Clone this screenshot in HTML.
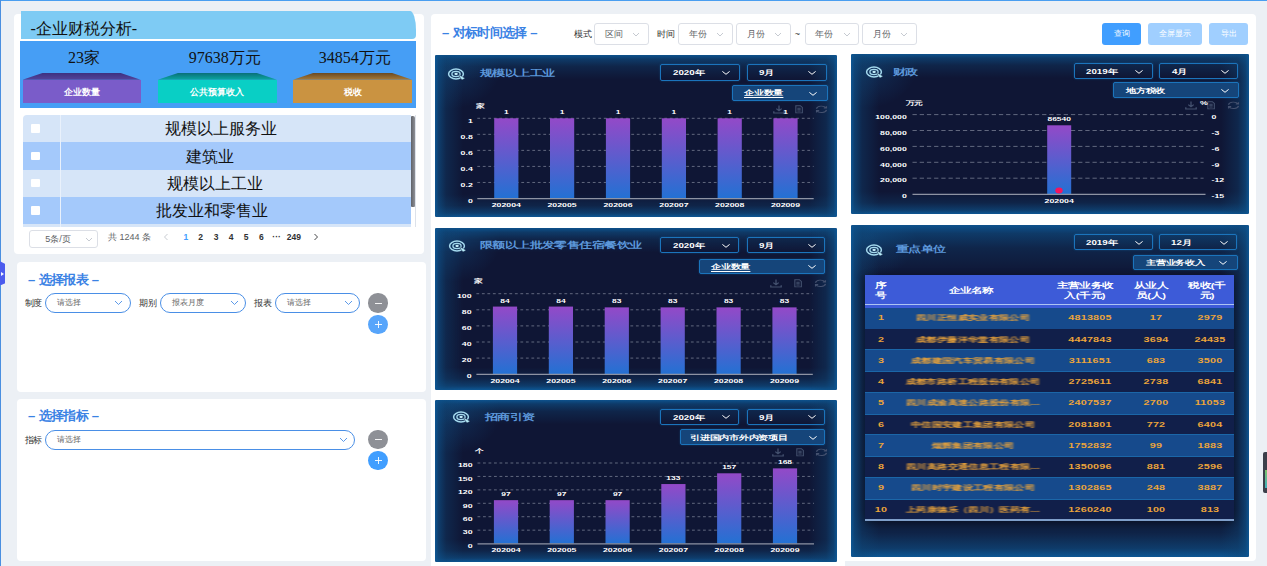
<!DOCTYPE html><html lang="zh"><head><meta charset="utf-8"><title>企业财税分析</title><style>
*{box-sizing:border-box;margin:0;padding:0}
html,body{width:1267px;height:566px;overflow:hidden}
body{position:relative;background:#ecf0f5;font-family:"Liberation Sans",sans-serif;font-size:9px;color:#333}
.abs{position:absolute}
i{display:inline-block;width:1em;text-align:center;font-style:normal;font-family:"Liberation Sans",sans-serif}
.t{position:absolute;white-space:nowrap;line-height:1}
.c{transform:translate(-50%,-50%)}
.l{transform:translate(0,-50%)}
.r{transform:translate(-100%,-50%)}
.cs{transform:translate(-50%,-50%) scaleX(1.46)}
.ls{transform-origin:0 50%;transform:translate(0,-50%) scaleX(1.46)}
.card{position:absolute;background:#fff;border-radius:4px}
.serif{font-family:"Liberation Serif",serif;color:#111}
.ttl{color:#3a82e4;font-weight:bold;font-size:13px}
.pill{position:absolute;border:1px solid #4a8fe6;border-radius:10px;background:#fff;height:19.5px}
.pill span.v{position:absolute;left:11px;top:50%;transform:translateY(-50%);font-size:8px;color:#666;line-height:1;white-space:nowrap}
.sel{position:absolute;border:1px solid #dcdfe6;border-radius:3px;background:#fff;height:22px;width:54.5px;top:22.7px}
.sel span.v{position:absolute;left:9.6px;top:50%;transform:translateY(-50%);font-size:9px;color:#606266;line-height:1;white-space:nowrap}
.btn{position:absolute;top:22.7px;height:22px;border:0;padding:0;margin:0;border-radius:3px;color:#fff;font-family:"Liberation Sans",sans-serif;font-size:8px;text-align:center;line-height:22px}
.dark{position:absolute;background:#0f1635;overflow:hidden;border-radius:2px}
.dark u{display:block;position:absolute;left:0;top:0;right:0;bottom:0;background:
linear-gradient(90deg,rgba(13,88,150,.95) 0,rgba(14,80,135,.68) 3.5px,rgba(15,70,118,.36) 11px,rgba(15,70,118,0) 28px),
linear-gradient(270deg,rgba(13,88,150,.95) 0,rgba(14,80,135,.68) 3.5px,rgba(15,70,118,.36) 11px,rgba(15,70,118,0) 28px),
linear-gradient(180deg,rgba(13,88,150,.9) 0,rgba(14,80,135,.62) 2.5%,rgba(15,70,118,.32) 7%,rgba(15,70,118,0) 15%),
linear-gradient(0deg,rgba(13,88,150,.98) 0,rgba(14,80,135,.66) 2.5%,rgba(15,70,118,.3) 7%,rgba(15,70,118,0) 14%)}
.dark b{position:absolute;left:-34px;top:-30px;width:100px;height:84px;background:radial-gradient(closest-side,rgba(20,105,170,.3),rgba(20,105,170,0))}
.dsel{position:absolute;border:1px solid #1b74bc;border-radius:2px;box-shadow:0 0 2px rgba(27,116,188,.5)}
.dsel.f{background:#15457a}
.dv{color:#fff;font-weight:bold;font-size:6.7px}
.dt{color:#5c97da;font-size:8.5px;font-weight:bold}
.th{color:#fff;font-weight:bold;font-size:7.67px;line-height:9.6px !important;text-align:center}
.td{color:#eba43a;font-weight:bold;font-size:7.4px;letter-spacing:.15px}
.td i{width:7.1px;letter-spacing:0}
.ttl i{width:12.3px}
.lb{font-size:9px}
.lb i{width:8.7px}
.un{color:#fff;font-weight:bold;font-size:5.7px}
.nm{filter:blur(.55px)}
svg{position:absolute;left:0;top:0;overflow:visible}
svg text{font-family:"Liberation Sans",sans-serif;font-weight:bold;fill:#fff}
</style></head><body>
<div class="abs" style="left:0;top:0;width:1267px;height:1.2px;background:#4a9ef0"></div>
<div class="abs" style="left:0;top:0;width:1.1px;height:566px;background:#4a8fe0"></div>
<div class="abs" style="left:0;top:261.3px;width:5.3px;height:24.2px;background:#4b5bee;clip-path:polygon(0 0,100% 11%,100% 91%,0 100%)"></div>
<div class="abs" style="left:.6px;top:272.3px;width:0;height:0;border-left:3px solid #f4f6ff;border-top:2.4px solid transparent;border-bottom:2.4px solid transparent"></div>
<div class="card" style="left:14.3px;top:14px;width:409.7px;height:240px"></div>
<div class="abs" style="left:20.5px;top:11.3px;width:395.5px;height:27.4px;background:#7ecbf4;border-radius:0 6px 4px 0/0 19px 4px 0"></div>
<div class="t l serif" style="left:30.5px;top:28.5px;font-size:16px">-<i>企</i><i>业</i><i>财</i><i>税</i><i>分</i><i>析</i>-</div>
<div class="abs" style="left:20px;top:41px;width:396px;height:67px;background:#469ef5"></div>
<div class="t c serif" style="left:84px;top:58.3px;font-size:16px">23<i>家</i></div>
<div class="t c serif" style="left:224.7px;top:58.3px;font-size:16px">97638<i>万</i><i>元</i></div>
<div class="t c serif" style="left:354.7px;top:58.3px;font-size:16px">34854<i>万</i><i>元</i></div>
<div class="abs" style="left:22.5px;top:72.8px;width:118.2px;height:7px;background:linear-gradient(#3d3180,#54439c);clip-path:polygon(17.5% 0,82.5% 0,100% 100%,0 100%)"></div>
<div class="abs" style="left:22.5px;top:79.5px;width:118.2px;height:23px;background:#7a5cc9"></div>
<div class="t c" style="left:81.6px;top:92px;color:#fff;font-weight:bold;font-size:9px"><i>企</i><i>业</i><i>数</i><i>量</i></div>
<div class="abs" style="left:157.8px;top:72.8px;width:119.2px;height:7px;background:linear-gradient(#0a6f78,#0aa8a2);clip-path:polygon(17.5% 0,82.5% 0,100% 100%,0 100%)"></div>
<div class="abs" style="left:157.8px;top:79.5px;width:119.2px;height:23px;background:#09cfc5"></div>
<div class="t c" style="left:217.4px;top:92px;color:#fff;font-weight:bold;font-size:9px"><i>公</i><i>共</i><i>预</i><i>算</i><i>收</i><i>入</i></div>
<div class="abs" style="left:293px;top:72.8px;width:119.3px;height:7px;background:linear-gradient(#6a4a22,#a87c3a);clip-path:polygon(17.5% 0,82.5% 0,100% 100%,0 100%)"></div>
<div class="abs" style="left:293px;top:79.5px;width:119.3px;height:23px;background:#ca9341"></div>
<div class="t c" style="left:352.6px;top:92px;color:#fff;font-weight:bold;font-size:9px"><i>税</i><i>收</i></div>
<div class="abs" style="left:23px;top:115px;width:388.3px;height:112px;overflow:hidden;border-radius:4px 0 0 0">
<div class="abs" style="left:0;top:0.0px;width:389px;height:27.4px;background:#d6e5f8"></div>
<div class="abs" style="left:7.5px;top:9.2px;width:9px;height:8.5px;background:#fff;border-radius:1px"></div>
<div class="t c serif" style="left:198.2px;top:14.2px;font-size:16px"><i>规</i><i>模</i><i>以</i><i>上</i><i>服</i><i>务</i><i>业</i></div>
<div class="abs" style="left:0;top:27.3px;width:389px;height:27.4px;background:#a4c9fb"></div>
<div class="abs" style="left:7.5px;top:36.5px;width:9px;height:8.5px;background:#fff;border-radius:1px"></div>
<div class="t c serif" style="left:187.1px;top:41.5px;font-size:16px"><i>建</i><i>筑</i><i>业</i></div>
<div class="abs" style="left:0;top:54.6px;width:389px;height:27.4px;background:#d6e5f8"></div>
<div class="abs" style="left:7.5px;top:63.8px;width:9px;height:8.5px;background:#fff;border-radius:1px"></div>
<div class="t c serif" style="left:191.6px;top:68.8px;font-size:16px"><i>规</i><i>模</i><i>以</i><i>上</i><i>工</i><i>业</i></div>
<div class="abs" style="left:0;top:81.9px;width:389px;height:27.4px;background:#a4c9fb"></div>
<div class="abs" style="left:7.5px;top:91.1px;width:9px;height:8.5px;background:#fff;border-radius:1px"></div>
<div class="t c serif" style="left:189.4px;top:96.1px;font-size:16px"><i>批</i><i>发</i><i>业</i><i>和</i><i>零</i><i>售</i><i>业</i></div>
<div class="abs" style="left:0;top:109.2px;width:389px;height:27.4px;background:#d6e5f8"></div>
<div class="abs" style="left:7.5px;top:118.4px;width:9px;height:8.5px;background:#fff;border-radius:1px"></div>
<div class="abs" style="left:37px;top:0;width:1px;height:112px;background:#e9f1fc"></div>
</div>
<div class="abs" style="left:411.2px;top:115.8px;width:3.9px;height:91.6px;background:linear-gradient(90deg,#5f6269,#8e9096);border-radius:1px 2px 1px 1px"></div>
<div class="abs" style="left:415.2px;top:115px;width:.7px;height:112px;background:#dde2ea"></div>
<div class="abs" style="left:29px;top:229.6px;width:68.6px;height:18.5px;border:1px solid #dcdfe6;border-radius:3px;background:#fff"></div>
<div class="t c" style="left:58px;top:238.6px;color:#606266;font-size:9px">5<i>条</i>/<i>页</i></div>
<svg width="8" height="5" style="left:85px;top:236.5px"><path d="M1 1 L4 4 L7 1" fill="none" stroke="#c0c4cc" stroke-width="0.9"/></svg>
<div class="t l" style="left:108px;top:236.8px;color:#606266;font-size:9px"><i>共</i> 1244 <i>条</i></div>
<svg width="6" height="8" style="left:163px;top:233px"><path d="M4.5 1 L1.5 4 L4.5 7" fill="none" stroke="#c0c4cc" stroke-width="0.9"/></svg>
<svg width="6" height="8" style="left:312.5px;top:233px"><path d="M1.5 1 L4.5 4 L1.5 7" fill="none" stroke="#303133" stroke-width="0.9"/></svg>
<div class="t c" style="left:185.8px;top:236.8px;color:#409eff;font-size:8.5px;font-weight:bold">1</div>
<div class="t c" style="left:200.7px;top:236.8px;color:#303133;font-size:8.5px;font-weight:bold">2</div>
<div class="t c" style="left:216px;top:236.8px;color:#303133;font-size:8.5px;font-weight:bold">3</div>
<div class="t c" style="left:231px;top:236.8px;color:#303133;font-size:8.5px;font-weight:bold">4</div>
<div class="t c" style="left:246px;top:236.8px;color:#303133;font-size:8.5px;font-weight:bold">5</div>
<div class="t c" style="left:261.3px;top:236.8px;color:#303133;font-size:8.5px;font-weight:bold">6</div>
<div class="t c" style="left:276.6px;top:236.8px;color:#303133;font-size:8.5px;font-weight:bold">···</div>
<div class="t c" style="left:293.8px;top:236.8px;color:#303133;font-size:8.5px;font-weight:bold">249</div>
<div class="card" style="left:16.5px;top:262px;width:409.7px;height:129.5px"></div>
<div class="t l ttl" style="left:28px;top:279.3px">– <i>选</i><i>择</i><i>报</i><i>表</i> –</div>
<div class="t l lb" style="left:24.5px;top:302.8px"><i>制</i><i>度</i></div>
<div class="pill" style="left:44.9px;top:293.3px;width:85.8px"><span class="v"><i>请</i><i>选</i><i>择</i></span></div>
<svg width="9" height="6" style="left:114.4px;top:299.8px"><path d="M1 1 L4.5 4.5 L8 1" fill="none" stroke="#4a8fe6" stroke-width="0.9"/></svg>
<div class="t l lb" style="left:139.2px;top:302.8px"><i>期</i><i>别</i></div>
<div class="pill" style="left:160px;top:293.3px;width:85.8px"><span class="v"><i>报</i><i>表</i><i>月</i><i>度</i></span></div>
<svg width="9" height="6" style="left:229.5px;top:299.8px"><path d="M1 1 L4.5 4.5 L8 1" fill="none" stroke="#4a8fe6" stroke-width="0.9"/></svg>
<div class="t l lb" style="left:253.9px;top:302.8px"><i>报</i><i>表</i></div>
<div class="pill" style="left:274.6px;top:293.3px;width:85.4px"><span class="v"><i>请</i><i>选</i><i>择</i></span></div>
<svg width="9" height="6" style="left:343.7px;top:299.8px"><path d="M1 1 L4.5 4.5 L8 1" fill="none" stroke="#4a8fe6" stroke-width="0.9"/></svg>
<div class="abs" style="left:368.3px;top:293.3px;width:19.4px;height:19.4px;border-radius:50%;background:#8e9096"></div>
<div class="abs" style="left:374.5px;top:302.5px;width:7px;height:1px;background:#fff;opacity:.9"></div>
<div class="abs" style="left:368.3px;top:314.7px;width:19.4px;height:19.4px;border-radius:50%;background:#57a5fb"></div>
<div class="abs" style="left:374.5px;top:323.9px;width:7px;height:1px;background:#fff;opacity:.9"></div>
<div class="abs" style="left:377.5px;top:320.9px;width:1px;height:7px;background:#fff;opacity:.9"></div>
<div class="card" style="left:16.5px;top:398.5px;width:409.7px;height:162.8px"></div>
<div class="t l ttl" style="left:28px;top:415.3px">– <i>选</i><i>择</i><i>指</i><i>标</i> –</div>
<div class="t l lb" style="left:24.5px;top:440px"><i>指</i><i>标</i></div>
<div class="pill" style="left:45px;top:430.3px;width:310px"><span class="v"><i>请</i><i>选</i><i>择</i></span></div>
<svg width="9" height="6" style="left:338.7px;top:436.8px"><path d="M1 1 L4.5 4.5 L8 1" fill="none" stroke="#4a8fe6" stroke-width="0.9"/></svg>
<div class="abs" style="left:368.3px;top:429.8px;width:19.4px;height:19.4px;border-radius:50%;background:#8e9096"></div>
<div class="abs" style="left:374.5px;top:439.0px;width:7px;height:1px;background:#fff;opacity:.9"></div>
<div class="abs" style="left:368.3px;top:450.8px;width:19.4px;height:19.4px;border-radius:50%;background:#409eff"></div>
<div class="abs" style="left:374.5px;top:460.0px;width:7px;height:1px;background:#fff;opacity:.9"></div>
<div class="abs" style="left:377.5px;top:457.0px;width:1px;height:7px;background:#fff;opacity:.9"></div>
<div class="card" style="left:430.5px;top:14.3px;width:825.5px;height:546.8px"></div>
<div class="abs" style="left:430.5px;top:550px;width:414px;height:16px;background:#fff"></div>
<div class="t l ttl" style="left:442px;top:31.5px">– <i>对</i><i>标</i><i>时</i><i>间</i><i>选</i><i>择</i> –</div>
<div class="t l lb" style="left:574px;top:33.5px"><i>模</i><i>式</i></div>
<div class="t l lb" style="left:657.4px;top:33.5px"><i>时</i><i>间</i></div>
<div class="t c" style="left:797.5px;top:34px;font-size:9px">~</div>
<div class="sel" style="left:594.2px"><span class="v"><i>区</i><i>间</i></span></div>
<svg width="8" height="5" style="left:632.2px;top:31.5px"><path d="M1 1 L4 4 L7 1" fill="none" stroke="#c0c4cc" stroke-width="0.9"/></svg>
<div class="sel" style="left:678.3px"><span class="v"><i>年</i><i>份</i></span></div>
<svg width="8" height="5" style="left:716.3px;top:31.5px"><path d="M1 1 L4 4 L7 1" fill="none" stroke="#c0c4cc" stroke-width="0.9"/></svg>
<div class="sel" style="left:736.3px"><span class="v"><i>月</i><i>份</i></span></div>
<svg width="8" height="5" style="left:774.3px;top:31.5px"><path d="M1 1 L4 4 L7 1" fill="none" stroke="#c0c4cc" stroke-width="0.9"/></svg>
<div class="sel" style="left:804.7px"><span class="v"><i>年</i><i>份</i></span></div>
<svg width="8" height="5" style="left:842.7px;top:31.5px"><path d="M1 1 L4 4 L7 1" fill="none" stroke="#c0c4cc" stroke-width="0.9"/></svg>
<div class="sel" style="left:862.3px"><span class="v"><i>月</i><i>份</i></span></div>
<svg width="8" height="5" style="left:900.3px;top:31.5px"><path d="M1 1 L4 4 L7 1" fill="none" stroke="#c0c4cc" stroke-width="0.9"/></svg>
<button class="btn" style="left:1102.2px;width:38.7px;background:#409eff"><i>查</i><i>询</i></button>
<button class="btn" style="left:1147.8px;width:54.6px;background:#a0cfff"><i>全</i><i>屏</i><i>显</i><i>示</i></button>
<button class="btn" style="left:1209.4px;width:38.5px;background:#a0cfff"><i>导</i><i>出</i></button>
<div class="abs" style="left:1262.5px;top:452px;width:6px;height:40.5px;background:#3b3f4a;border-radius:2px 0 0 2px"></div>
<div class="abs" style="left:1265px;top:470px;width:2px;height:18px;background:linear-gradient(#7fc36a,#3fb0c0)"></div>
<svg width="0" height="0"><defs><linearGradient id="bg" x1="0" y1="0" x2="0" y2="1"><stop offset="0" stop-color="#9349c8"/><stop offset="1" stop-color="#2371d3"/></linearGradient></defs></svg>
<div class="dark" style="left:435px;top:55px;width:402px;height:161.7px"><b></b><u></u></div>
<svg width="20" height="14" viewBox="-10 -7 20 14" style="left:446.0px;top:66.6px"><g fill="none" stroke="#a4d9ee"><ellipse cx="0" cy="0" rx="7.4" ry="4.9" stroke-width="1.5"/><ellipse cx="0" cy="0" rx="4.1" ry="2.6" stroke-width="1.35"/></g><ellipse cx="0.1" cy="0" rx="1.7" ry="1.15" fill="#c2ecf8"/><path d="M2.3 0.5 L9.1 4.2 L5.9 6.1 Z" fill="#b9effb" stroke="#0f1d3e" stroke-width=".4"/></svg>
<div class="t ls dt" style="left:480.4px;top:73.1px"><i>规</i><i>模</i><i>以</i><i>上</i><i>工</i><i>业</i></div>
<div class="dsel" style="left:660.2px;top:64.3px;width:79.8px;height:16.7px"></div>
<div class="t ls dv" style="left:672.5px;top:73.2px">2020<i>年</i></div>
<svg width="10" height="6" style="left:720.7px;top:70.1px"><path d="M1.4 1.4 L5 4.3 L8.6 1.4" fill="none" stroke="#fff" stroke-width="1.0"/></svg>
<div class="dsel" style="left:747px;top:64.3px;width:79.8px;height:16.7px"></div>
<div class="t ls dv" style="left:758.7px;top:73.2px">9<i>月</i></div>
<svg width="10" height="6" style="left:807.4px;top:70.1px"><path d="M1.4 1.4 L5 4.3 L8.6 1.4" fill="none" stroke="#fff" stroke-width="1.0"/></svg>
<div class="dsel f" style="left:732.2px;top:85.4px;width:95.6px;height:15.9px"></div>
<div class="t ls dv" style="left:744.2px;top:93.9px;border-bottom:.7px solid #fff;padding-bottom:.3px;margin-top:.5px"><i>企</i><i>业</i><i>数</i><i>量</i></div>
<svg width="10" height="6" style="left:808px;top:90.8px"><path d="M1.4 1.4 L5 4.3 L8.6 1.4" fill="none" stroke="#fff" stroke-width="1.0"/></svg>
<svg width="12" height="8.8" preserveAspectRatio="none" viewBox="0 0 12 12" style="left:772.7px;top:105.0px"><path d="M6 0.8 V7.6 M3.3 5 L6 7.8 L8.7 5 M0.8 8.4 V11 H11.2 V8.4" fill="none" stroke="#44516f" stroke-width="1.3"/></svg>
<svg width="10" height="8.6" preserveAspectRatio="none" viewBox="0 0 12 12" style="left:794.0px;top:105.0px"><path d="M2.2 1 H7.6 L10 3.4 V11 H2.2 Z M4 4.5 H8 M4 6.5 H8 M4 8.5 H8" fill="none" stroke="#44516f" stroke-width="1.3"/></svg>
<svg width="13" height="8.6" preserveAspectRatio="none" viewBox="0 0 13 12" style="left:814.9px;top:105.0px"><path d="M1.5 5.2 A5 4.2 0 0 1 11 4 M11.5 6.8 A5 4.2 0 0 1 2 8 M11.4 1.6 V4.2 H8.8 M1.6 10.4 V7.8 H4.2" fill="none" stroke="#44516f" stroke-width="1.3"/></svg>
<svg width="1267" height="566" viewBox="0 0 1267 566" style="left:0;top:0;pointer-events:none"><line x1="477.3" y1="118.3" x2="813.7" y2="118.3" stroke="#c3c8d6" stroke-opacity=".58" stroke-width="0.8" stroke-dasharray="2.8 2.7"/><line x1="477.3" y1="134.34" x2="813.7" y2="134.34" stroke="#c3c8d6" stroke-opacity=".58" stroke-width="0.8" stroke-dasharray="2.8 2.7"/><line x1="477.3" y1="150.38" x2="813.7" y2="150.38" stroke="#c3c8d6" stroke-opacity=".58" stroke-width="0.8" stroke-dasharray="2.8 2.7"/><line x1="477.3" y1="166.42" x2="813.7" y2="166.42" stroke="#c3c8d6" stroke-opacity=".58" stroke-width="0.8" stroke-dasharray="2.8 2.7"/><line x1="477.3" y1="182.46" x2="813.7" y2="182.46" stroke="#c3c8d6" stroke-opacity=".58" stroke-width="0.8" stroke-dasharray="2.8 2.7"/><rect x="494.2" y="118.3" width="24.2" height="80.2" fill="url(#bg)"/><rect x="550.0" y="118.3" width="24.2" height="80.2" fill="url(#bg)"/><rect x="605.9" y="118.3" width="24.2" height="80.2" fill="url(#bg)"/><rect x="661.8" y="118.3" width="24.2" height="80.2" fill="url(#bg)"/><rect x="717.6" y="118.3" width="24.2" height="80.2" fill="url(#bg)"/><rect x="773.4" y="118.3" width="24.2" height="80.2" fill="url(#bg)"/><text transform="translate(472.8 122.56) scale(1.46 1)" text-anchor="end" font-size="6">1</text><text transform="translate(472.8 138.6) scale(1.46 1)" text-anchor="end" font-size="6">0.8</text><text transform="translate(472.8 154.64) scale(1.46 1)" text-anchor="end" font-size="6">0.6</text><text transform="translate(472.8 170.68) scale(1.46 1)" text-anchor="end" font-size="6">0.4</text><text transform="translate(472.8 186.72) scale(1.46 1)" text-anchor="end" font-size="6">0.2</text><text transform="translate(472.8 202.76) scale(1.46 1)" text-anchor="end" font-size="6">0</text><text transform="translate(506.3 114.39) scale(1.46 1)" text-anchor="middle" font-size="5.8">1</text><text transform="translate(506.3 207.16) scale(1.46 1)" text-anchor="middle" font-size="6">202004</text><text transform="translate(562.1 114.39) scale(1.46 1)" text-anchor="middle" font-size="5.8">1</text><text transform="translate(562.1 207.16) scale(1.46 1)" text-anchor="middle" font-size="6">202005</text><text transform="translate(618.0 114.39) scale(1.46 1)" text-anchor="middle" font-size="5.8">1</text><text transform="translate(618.0 207.16) scale(1.46 1)" text-anchor="middle" font-size="6">202006</text><text transform="translate(673.9 114.39) scale(1.46 1)" text-anchor="middle" font-size="5.8">1</text><text transform="translate(673.9 207.16) scale(1.46 1)" text-anchor="middle" font-size="6">202007</text><text transform="translate(729.7 114.39) scale(1.46 1)" text-anchor="middle" font-size="5.8">1</text><text transform="translate(729.7 207.16) scale(1.46 1)" text-anchor="middle" font-size="6">202008</text><text transform="translate(785.5 114.39) scale(1.46 1)" text-anchor="middle" font-size="5.8">1</text><text transform="translate(785.5 207.16) scale(1.46 1)" text-anchor="middle" font-size="6">202009</text><line x1="477.3" y1="198.7" x2="813.7" y2="198.7" stroke="#8e93a3" stroke-width="1.3"/></svg>
<div class="t cs un" style="left:479.5px;top:107.3px"><i>家</i></div>
<div class="dark" style="left:435px;top:227.5px;width:402px;height:162.2px"><b></b><u></u></div>
<svg width="20" height="14" viewBox="-10 -7 20 14" style="left:446.9px;top:238.7px"><g fill="none" stroke="#a4d9ee"><ellipse cx="0" cy="0" rx="7.4" ry="4.9" stroke-width="1.5"/><ellipse cx="0" cy="0" rx="4.1" ry="2.6" stroke-width="1.35"/></g><ellipse cx="0.1" cy="0" rx="1.7" ry="1.15" fill="#c2ecf8"/><path d="M2.3 0.5 L9.1 4.2 L5.9 6.1 Z" fill="#b9effb" stroke="#0f1d3e" stroke-width=".4"/></svg>
<div class="t ls dt" style="left:479.7px;top:245.2px"><i>限</i><i>额</i><i>以</i><i>上</i><i>批</i><i>发</i><i>零</i><i>售</i><i>住</i><i>宿</i><i>餐</i><i>饮</i><i>业</i></div>
<div class="dsel" style="left:660.4px;top:237.2px;width:78.8px;height:15.9px"></div>
<div class="t ls dv" style="left:672.5px;top:245.7px">2020<i>年</i></div>
<svg width="10" height="6" style="left:720.7px;top:242.6px"><path d="M1.4 1.4 L5 4.3 L8.6 1.4" fill="none" stroke="#fff" stroke-width="1.0"/></svg>
<div class="dsel" style="left:746.5px;top:237.2px;width:78.9px;height:15.9px"></div>
<div class="t ls dv" style="left:758.7px;top:245.7px">9<i>月</i></div>
<svg width="10" height="6" style="left:806.5px;top:242.6px"><path d="M1.4 1.4 L5 4.3 L8.6 1.4" fill="none" stroke="#fff" stroke-width="1.0"/></svg>
<div class="dsel f" style="left:699.1px;top:258.8px;width:126.3px;height:15.5px"></div>
<div class="t ls dv" style="left:711px;top:267.1px;border-bottom:.7px solid #fff;padding-bottom:.3px;margin-top:.5px"><i>企</i><i>业</i><i>数</i><i>量</i></div>
<svg width="10" height="6" style="left:806.5px;top:264.0px"><path d="M1.4 1.4 L5 4.3 L8.6 1.4" fill="none" stroke="#fff" stroke-width="1.0"/></svg>
<svg width="12" height="8.8" preserveAspectRatio="none" viewBox="0 0 12 12" style="left:770.2px;top:279.3px"><path d="M6 0.8 V7.6 M3.3 5 L6 7.8 L8.7 5 M0.8 8.4 V11 H11.2 V8.4" fill="none" stroke="#44516f" stroke-width="1.3"/></svg>
<svg width="10" height="8.6" preserveAspectRatio="none" viewBox="0 0 12 12" style="left:793.4px;top:279.3px"><path d="M2.2 1 H7.6 L10 3.4 V11 H2.2 Z M4 4.5 H8 M4 6.5 H8 M4 8.5 H8" fill="none" stroke="#44516f" stroke-width="1.3"/></svg>
<svg width="13" height="8.6" preserveAspectRatio="none" viewBox="0 0 13 12" style="left:813.9px;top:279.3px"><path d="M1.5 5.2 A5 4.2 0 0 1 11 4 M11.5 6.8 A5 4.2 0 0 1 2 8 M11.4 1.6 V4.2 H8.8 M1.6 10.4 V7.8 H4.2" fill="none" stroke="#44516f" stroke-width="1.3"/></svg>
<svg width="1267" height="566" viewBox="0 0 1267 566" style="left:0;top:0;pointer-events:none"><line x1="476.4" y1="293.7" x2="812.8" y2="293.7" stroke="#c3c8d6" stroke-opacity=".58" stroke-width="0.8" stroke-dasharray="2.8 2.7"/><line x1="476.4" y1="309.8" x2="812.8" y2="309.8" stroke="#c3c8d6" stroke-opacity=".58" stroke-width="0.8" stroke-dasharray="2.8 2.7"/><line x1="476.4" y1="325.9" x2="812.8" y2="325.9" stroke="#c3c8d6" stroke-opacity=".58" stroke-width="0.8" stroke-dasharray="2.8 2.7"/><line x1="476.4" y1="342.0" x2="812.8" y2="342.0" stroke="#c3c8d6" stroke-opacity=".58" stroke-width="0.8" stroke-dasharray="2.8 2.7"/><line x1="476.4" y1="358.1" x2="812.8" y2="358.1" stroke="#c3c8d6" stroke-opacity=".58" stroke-width="0.8" stroke-dasharray="2.8 2.7"/><rect x="492.9" y="306.58" width="24.2" height="67.62" fill="url(#bg)"/><rect x="548.8" y="306.58" width="24.2" height="67.62" fill="url(#bg)"/><rect x="604.7" y="307.38" width="24.2" height="66.81" fill="url(#bg)"/><rect x="660.6" y="307.38" width="24.2" height="66.81" fill="url(#bg)"/><rect x="716.5" y="307.38" width="24.2" height="66.81" fill="url(#bg)"/><rect x="772.4" y="307.38" width="24.2" height="66.81" fill="url(#bg)"/><text transform="translate(471.5 297.96) scale(1.46 1)" text-anchor="end" font-size="6">100</text><text transform="translate(471.5 314.06) scale(1.46 1)" text-anchor="end" font-size="6">80</text><text transform="translate(471.5 330.16) scale(1.46 1)" text-anchor="end" font-size="6">60</text><text transform="translate(471.5 346.26) scale(1.46 1)" text-anchor="end" font-size="6">40</text><text transform="translate(471.5 362.36) scale(1.46 1)" text-anchor="end" font-size="6">20</text><text transform="translate(471.5 378.46) scale(1.46 1)" text-anchor="end" font-size="6">0</text><text transform="translate(505.0 302.67) scale(1.46 1)" text-anchor="middle" font-size="5.8">84</text><text transform="translate(505.0 383.16) scale(1.46 1)" text-anchor="middle" font-size="6">202004</text><text transform="translate(560.9 302.67) scale(1.46 1)" text-anchor="middle" font-size="5.8">84</text><text transform="translate(560.9 383.16) scale(1.46 1)" text-anchor="middle" font-size="6">202005</text><text transform="translate(616.8 303.47) scale(1.46 1)" text-anchor="middle" font-size="5.8">83</text><text transform="translate(616.8 383.16) scale(1.46 1)" text-anchor="middle" font-size="6">202006</text><text transform="translate(672.7 303.47) scale(1.46 1)" text-anchor="middle" font-size="5.8">83</text><text transform="translate(672.7 383.16) scale(1.46 1)" text-anchor="middle" font-size="6">202007</text><text transform="translate(728.6 303.47) scale(1.46 1)" text-anchor="middle" font-size="5.8">83</text><text transform="translate(728.6 383.16) scale(1.46 1)" text-anchor="middle" font-size="6">202008</text><text transform="translate(784.5 303.47) scale(1.46 1)" text-anchor="middle" font-size="5.8">83</text><text transform="translate(784.5 383.16) scale(1.46 1)" text-anchor="middle" font-size="6">202009</text><line x1="476.4" y1="374.4" x2="812.8" y2="374.4" stroke="#8e93a3" stroke-width="1.3"/></svg>
<div class="t cs un" style="left:478px;top:282px"><i>家</i></div>
<div class="dark" style="left:435px;top:400px;width:401.8px;height:161.6px"><b></b><u></u></div>
<svg width="20" height="14" viewBox="-10 -7 20 14" style="left:451.0px;top:410.4px"><g fill="none" stroke="#a4d9ee"><ellipse cx="0" cy="0" rx="7.4" ry="4.9" stroke-width="1.5"/><ellipse cx="0" cy="0" rx="4.1" ry="2.6" stroke-width="1.35"/></g><ellipse cx="0.1" cy="0" rx="1.7" ry="1.15" fill="#c2ecf8"/><path d="M2.3 0.5 L9.1 4.2 L5.9 6.1 Z" fill="#b9effb" stroke="#0f1d3e" stroke-width=".4"/></svg>
<div class="t ls dt" style="left:484.7px;top:416.9px"><i>招</i><i>商</i><i>引</i><i>资</i></div>
<div class="dsel" style="left:660.4px;top:408.9px;width:78.8px;height:16.1px"></div>
<div class="t ls dv" style="left:672.5px;top:417.5px">2020<i>年</i></div>
<svg width="10" height="6" style="left:720.7px;top:414.4px"><path d="M1.4 1.4 L5 4.3 L8.6 1.4" fill="none" stroke="#fff" stroke-width="1.0"/></svg>
<div class="dsel" style="left:746.5px;top:408.9px;width:78.9px;height:16.1px"></div>
<div class="t ls dv" style="left:758.7px;top:417.5px">9<i>月</i></div>
<svg width="10" height="6" style="left:806.5px;top:414.4px"><path d="M1.4 1.4 L5 4.3 L8.6 1.4" fill="none" stroke="#fff" stroke-width="1.0"/></svg>
<div class="dsel f" style="left:679.6px;top:429.4px;width:145.8px;height:15.9px"></div>
<div class="t ls dv" style="left:689.5px;top:437.9px"><i>引</i><i>进</i><i>国</i><i>内</i><i>市</i><i>外</i><i>内</i><i>资</i><i>项</i><i>目</i></div>
<svg width="10" height="6" style="left:807.5px;top:434.8px"><path d="M1.4 1.4 L5 4.3 L8.6 1.4" fill="none" stroke="#fff" stroke-width="1.0"/></svg>
<svg width="12" height="8.8" preserveAspectRatio="none" viewBox="0 0 12 12" style="left:771.5px;top:448.0px"><path d="M6 0.8 V7.6 M3.3 5 L6 7.8 L8.7 5 M0.8 8.4 V11 H11.2 V8.4" fill="none" stroke="#44516f" stroke-width="1.3"/></svg>
<svg width="10" height="8.6" preserveAspectRatio="none" viewBox="0 0 12 12" style="left:795.0px;top:448.0px"><path d="M2.2 1 H7.6 L10 3.4 V11 H2.2 Z M4 4.5 H8 M4 6.5 H8 M4 8.5 H8" fill="none" stroke="#44516f" stroke-width="1.3"/></svg>
<svg width="13" height="8.6" preserveAspectRatio="none" viewBox="0 0 13 12" style="left:815.0px;top:448.0px"><path d="M1.5 5.2 A5 4.2 0 0 1 11 4 M11.5 6.8 A5 4.2 0 0 1 2 8 M11.4 1.6 V4.2 H8.8 M1.6 10.4 V7.8 H4.2" fill="none" stroke="#44516f" stroke-width="1.3"/></svg>
<svg width="1267" height="566" viewBox="0 0 1267 566" style="left:0;top:0;pointer-events:none"><line x1="477.5" y1="463.0" x2="814" y2="463.0" stroke="#c3c8d6" stroke-opacity=".58" stroke-width="0.8" stroke-dasharray="2.8 2.7"/><line x1="477.5" y1="476.43" x2="814" y2="476.43" stroke="#c3c8d6" stroke-opacity=".58" stroke-width="0.8" stroke-dasharray="2.8 2.7"/><line x1="477.5" y1="489.87" x2="814" y2="489.87" stroke="#c3c8d6" stroke-opacity=".58" stroke-width="0.8" stroke-dasharray="2.8 2.7"/><line x1="477.5" y1="503.3" x2="814" y2="503.3" stroke="#c3c8d6" stroke-opacity=".58" stroke-width="0.8" stroke-dasharray="2.8 2.7"/><line x1="477.5" y1="516.73" x2="814" y2="516.73" stroke="#c3c8d6" stroke-opacity=".58" stroke-width="0.8" stroke-dasharray="2.8 2.7"/><line x1="477.5" y1="530.17" x2="814" y2="530.17" stroke="#c3c8d6" stroke-opacity=".58" stroke-width="0.8" stroke-dasharray="2.8 2.7"/><rect x="493.9" y="500.17" width="24.2" height="43.43" fill="url(#bg)"/><rect x="549.7" y="500.17" width="24.2" height="43.43" fill="url(#bg)"/><rect x="605.5" y="500.17" width="24.2" height="43.43" fill="url(#bg)"/><rect x="661.3" y="484.05" width="24.2" height="59.55" fill="url(#bg)"/><rect x="717.1" y="473.3" width="24.2" height="70.3" fill="url(#bg)"/><rect x="772.9" y="468.37" width="24.2" height="75.23" fill="url(#bg)"/><text transform="translate(472.5 467.26) scale(1.46 1)" text-anchor="end" font-size="6">180</text><text transform="translate(472.5 480.69) scale(1.46 1)" text-anchor="end" font-size="6">150</text><text transform="translate(472.5 494.13) scale(1.46 1)" text-anchor="end" font-size="6">120</text><text transform="translate(472.5 507.56) scale(1.46 1)" text-anchor="end" font-size="6">90</text><text transform="translate(472.5 520.99) scale(1.46 1)" text-anchor="end" font-size="6">60</text><text transform="translate(472.5 534.43) scale(1.46 1)" text-anchor="end" font-size="6">30</text><text transform="translate(472.5 547.86) scale(1.46 1)" text-anchor="end" font-size="6">0</text><text transform="translate(506.0 496.26) scale(1.46 1)" text-anchor="middle" font-size="5.8">97</text><text transform="translate(506.0 552.46) scale(1.46 1)" text-anchor="middle" font-size="6">202004</text><text transform="translate(561.8 496.26) scale(1.46 1)" text-anchor="middle" font-size="5.8">97</text><text transform="translate(561.8 552.46) scale(1.46 1)" text-anchor="middle" font-size="6">202005</text><text transform="translate(617.6 496.26) scale(1.46 1)" text-anchor="middle" font-size="5.8">97</text><text transform="translate(617.6 552.46) scale(1.46 1)" text-anchor="middle" font-size="6">202006</text><text transform="translate(673.4 480.14) scale(1.46 1)" text-anchor="middle" font-size="5.8">133</text><text transform="translate(673.4 552.46) scale(1.46 1)" text-anchor="middle" font-size="6">202007</text><text transform="translate(729.2 469.39) scale(1.46 1)" text-anchor="middle" font-size="5.8">157</text><text transform="translate(729.2 552.46) scale(1.46 1)" text-anchor="middle" font-size="6">202008</text><text transform="translate(785.0 464.46) scale(1.46 1)" text-anchor="middle" font-size="5.8">168</text><text transform="translate(785.0 552.46) scale(1.46 1)" text-anchor="middle" font-size="6">202009</text><line x1="477.5" y1="543.8000000000001" x2="814" y2="543.8000000000001" stroke="#8e93a3" stroke-width="1.3"/></svg>
<div class="t cs un" style="left:479px;top:451.5px"><i>个</i></div>
<div class="dark" style="left:851px;top:54.2px;width:397.6px;height:160.0px"><b></b><u></u></div>
<svg width="20" height="14" viewBox="-10 -7 20 14" style="left:864.4px;top:65.2px"><g fill="none" stroke="#a4d9ee"><ellipse cx="0" cy="0" rx="7.4" ry="4.9" stroke-width="1.5"/><ellipse cx="0" cy="0" rx="4.1" ry="2.6" stroke-width="1.35"/></g><ellipse cx="0.1" cy="0" rx="1.7" ry="1.15" fill="#c2ecf8"/><path d="M2.3 0.5 L9.1 4.2 L5.9 6.1 Z" fill="#b9effb" stroke="#0f1d3e" stroke-width=".4"/></svg>
<div class="t ls dt" style="left:893.3px;top:71.7px"><i>财</i><i>政</i></div>
<div class="dsel" style="left:1074.2px;top:63.4px;width:78.6px;height:15.7px"></div>
<div class="t ls dv" style="left:1086px;top:71.8px">2019<i>年</i></div>
<svg width="10" height="6" style="left:1134px;top:68.7px"><path d="M1.4 1.4 L5 4.3 L8.6 1.4" fill="none" stroke="#fff" stroke-width="1.0"/></svg>
<div class="dsel" style="left:1159.1px;top:63.4px;width:78.9px;height:15.7px"></div>
<div class="t ls dv" style="left:1171.5px;top:71.8px">4<i>月</i></div>
<svg width="10" height="6" style="left:1219.5px;top:68.7px"><path d="M1.4 1.4 L5 4.3 L8.6 1.4" fill="none" stroke="#fff" stroke-width="1.0"/></svg>
<div class="dsel f" style="left:1113.2px;top:82.4px;width:125.6px;height:15.9px"></div>
<div class="t ls dv" style="left:1125.5px;top:90.9px"><i>地</i><i>方</i><i>税</i><i>收</i></div>
<svg width="10" height="6" style="left:1220px;top:87.8px"><path d="M1.4 1.4 L5 4.3 L8.6 1.4" fill="none" stroke="#fff" stroke-width="1.0"/></svg>
<svg width="12" height="8.8" preserveAspectRatio="none" viewBox="0 0 12 12" style="left:1184.7px;top:100.9px"><path d="M6 0.8 V7.6 M3.3 5 L6 7.8 L8.7 5 M0.8 8.4 V11 H11.2 V8.4" fill="none" stroke="#44516f" stroke-width="1.3"/></svg>
<svg width="10" height="8.6" preserveAspectRatio="none" viewBox="0 0 12 12" style="left:1205.7px;top:100.9px"><path d="M2.2 1 H7.6 L10 3.4 V11 H2.2 Z M4 4.5 H8 M4 6.5 H8 M4 8.5 H8" fill="none" stroke="#44516f" stroke-width="1.3"/></svg>
<svg width="13" height="8.6" preserveAspectRatio="none" viewBox="0 0 13 12" style="left:1226.7px;top:100.9px"><path d="M1.5 5.2 A5 4.2 0 0 1 11 4 M11.5 6.8 A5 4.2 0 0 1 2 8 M11.4 1.6 V4.2 H8.8 M1.6 10.4 V7.8 H4.2" fill="none" stroke="#44516f" stroke-width="1.3"/></svg>
<svg width="1267" height="566" viewBox="0 0 1267 566" style="left:0;top:0;pointer-events:none"><line x1="912.5" y1="114.6" x2="1203.6" y2="114.6" stroke="#c3c8d6" stroke-opacity=".58" stroke-width="0.8" stroke-dasharray="4.3 2.9"/><line x1="912.5" y1="130.5" x2="1203.6" y2="130.5" stroke="#c3c8d6" stroke-opacity=".58" stroke-width="0.8" stroke-dasharray="4.3 2.9"/><line x1="912.5" y1="146.4" x2="1203.6" y2="146.4" stroke="#c3c8d6" stroke-opacity=".58" stroke-width="0.8" stroke-dasharray="4.3 2.9"/><line x1="912.5" y1="162.3" x2="1203.6" y2="162.3" stroke="#c3c8d6" stroke-opacity=".58" stroke-width="0.8" stroke-dasharray="4.3 2.9"/><line x1="912.5" y1="178.2" x2="1203.6" y2="178.2" stroke="#c3c8d6" stroke-opacity=".58" stroke-width="0.8" stroke-dasharray="4.3 2.9"/><rect x="1047.2" y="125.3" width="24" height="68.8" fill="url(#bg)"/><text transform="translate(906.8 118.86) scale(1.46 1)" text-anchor="end" font-size="6">100,000</text><text transform="translate(1211.5 118.86) scale(1.46 1)" text-anchor="start" font-size="6">0</text><text transform="translate(906.8 134.76) scale(1.46 1)" text-anchor="end" font-size="6">80,000</text><text transform="translate(1211.5 134.76) scale(1.46 1)" text-anchor="start" font-size="6">-3</text><text transform="translate(906.8 150.66) scale(1.46 1)" text-anchor="end" font-size="6">60,000</text><text transform="translate(1211.5 150.66) scale(1.46 1)" text-anchor="start" font-size="6">-6</text><text transform="translate(906.8 166.56) scale(1.46 1)" text-anchor="end" font-size="6">40,000</text><text transform="translate(1211.5 166.56) scale(1.46 1)" text-anchor="start" font-size="6">-9</text><text transform="translate(906.8 182.46) scale(1.46 1)" text-anchor="end" font-size="6">20,000</text><text transform="translate(1211.5 182.46) scale(1.46 1)" text-anchor="start" font-size="6">-12</text><text transform="translate(906.8 198.36) scale(1.46 1)" text-anchor="end" font-size="6">0</text><text transform="translate(1211.5 198.36) scale(1.46 1)" text-anchor="start" font-size="6">-15</text><text transform="translate(1059.2 121.39) scale(1.46 1)" text-anchor="middle" font-size="5.8">86540</text><text transform="translate(1059.2 202.76) scale(1.46 1)" text-anchor="middle" font-size="6">202004</text><line x1="912.5" y1="194.29999999999998" x2="1205.5" y2="194.29999999999998" stroke="#8e93a3" stroke-width="1.3"/><ellipse cx="1059" cy="190.6" rx="3.7" ry="3" fill="#f5145f"/><text transform="translate(1204 105.16) scale(1.46 1)" text-anchor="middle" font-size="6">%</text></svg>
<div class="t cs un" style="left:913.5px;top:103.5px"><i>万</i><i>元</i></div>
<div class="dark" style="left:851px;top:225px;width:397.5px;height:331.7px"><b></b><u></u></div>
<svg width="20" height="14" viewBox="-10 -7 20 14" style="left:864.4px;top:242.6px"><g fill="none" stroke="#a4d9ee"><ellipse cx="0" cy="0" rx="7.4" ry="4.9" stroke-width="1.5"/><ellipse cx="0" cy="0" rx="4.1" ry="2.6" stroke-width="1.35"/></g><ellipse cx="0.1" cy="0" rx="1.7" ry="1.15" fill="#c2ecf8"/><path d="M2.3 0.5 L9.1 4.2 L5.9 6.1 Z" fill="#b9effb" stroke="#0f1d3e" stroke-width=".4"/></svg>
<div class="t ls dt" style="left:895.6px;top:249.1px"><i>重</i><i>点</i><i>单</i><i>位</i></div>
<div class="dsel" style="left:1074.2px;top:234.2px;width:78.6px;height:15.7px"></div>
<div class="t ls dv" style="left:1086px;top:242.6px">2019<i>年</i></div>
<svg width="10" height="6" style="left:1134px;top:239.5px"><path d="M1.4 1.4 L5 4.3 L8.6 1.4" fill="none" stroke="#fff" stroke-width="1.0"/></svg>
<div class="dsel" style="left:1158.7px;top:234.2px;width:78.5px;height:15.7px"></div>
<div class="t ls dv" style="left:1171px;top:242.6px">12<i>月</i></div>
<svg width="10" height="6" style="left:1218.5px;top:239.5px"><path d="M1.4 1.4 L5 4.3 L8.6 1.4" fill="none" stroke="#fff" stroke-width="1.0"/></svg>
<div class="dsel f" style="left:1133.4px;top:254.7px;width:104.3px;height:15.7px"></div>
<div class="t ls dv" style="left:1146px;top:263.1px"><i>主</i><i>营</i><i>业</i><i>务</i><i>收</i><i>入</i></div>
<svg width="10" height="6" style="left:1217.6px;top:260.0px"><path d="M1.4 1.4 L5 4.3 L8.6 1.4" fill="none" stroke="#fff" stroke-width="1.0"/></svg>
<div class="abs" style="left:864.8px;top:274.9px;width:369px;height:245.2px;box-shadow:0 3px 8px rgba(0,0,0,.45)">
<div class="abs" style="left:0;top:31.8px;width:369px;height:22.9px;background:#164a8c;border-top:1.2px solid #1b66a8;border-bottom:1.2px solid #1b66a8"></div>
<div class="abs" style="left:0;top:54.6px;width:369px;height:19.8px;background:#111f4a"></div>
<div class="abs" style="left:0;top:74.3px;width:369px;height:22.9px;background:#164a8c;border-top:1.2px solid #1b66a8;border-bottom:1.2px solid #1b66a8"></div>
<div class="abs" style="left:0;top:97.1px;width:369px;height:19.8px;background:#111f4a"></div>
<div class="abs" style="left:0;top:116.9px;width:369px;height:22.9px;background:#164a8c;border-top:1.2px solid #1b66a8;border-bottom:1.2px solid #1b66a8"></div>
<div class="abs" style="left:0;top:139.7px;width:369px;height:19.8px;background:#111f4a"></div>
<div class="abs" style="left:0;top:159.4px;width:369px;height:22.9px;background:#164a8c;border-top:1.2px solid #1b66a8;border-bottom:1.2px solid #1b66a8"></div>
<div class="abs" style="left:0;top:182.3px;width:369px;height:19.8px;background:#111f4a"></div>
<div class="abs" style="left:0;top:202.0px;width:369px;height:22.9px;background:#164a8c;border-top:1.2px solid #1b66a8;border-bottom:1.2px solid #1b66a8"></div>
<div class="abs" style="left:0;top:224.8px;width:369px;height:19.8px;background:#111f4a"></div>
<div class="abs" style="left:0;top:0;width:369px;height:32.7px;background:#3d5bd8"></div><div class="abs" style="left:0;top:29.1px;width:369px;height:1.1px;background:#adc4f2"></div>
<div class="t cs th" style="left:16.2px;top:16.4px"><i>序</i><br><i>号</i></div>
<div class="t cs th" style="left:106.1px;top:16.4px"><i>企</i><i>业</i><i>名</i><i>称</i></div>
<div class="t cs th" style="left:220.5px;top:16.4px"><i>主</i><i>营</i><i>业</i><i>务</i><i>收</i><br><i>入</i>(<i>千</i><i>元</i>)</div>
<div class="t cs th" style="left:286.7px;top:16.4px"><i>从</i><i>业</i><i>人</i><br><i>员</i>(<i>人</i>)</div>
<div class="t cs th" style="left:342.2px;top:16.4px"><i>税</i><i>收</i>(<i>千</i><br><i>元</i>)</div>
<div class="t cs td" style="left:16.2px;top:43.4px">1</div>
<div class="t cs td nm" style="left:108.5px;top:43.4px"><i>四</i><i>川</i><i>正</i><i>恒</i><i>威</i><i>实</i><i>业</i><i>有</i><i>限</i><i>公</i><i>司</i></div>
<div class="t cs td" style="left:224.9px;top:43.4px">4813805</div>
<div class="t cs td" style="left:291.2px;top:43.4px">17</div>
<div class="t cs td" style="left:345.7px;top:43.4px">2979</div>
<div class="t cs td" style="left:16.2px;top:64.7px">2</div>
<div class="t cs td nm" style="left:108.5px;top:64.7px"><i>成</i><i>都</i><i>伊</i><i>藤</i><i>洋</i><i>华</i><i>堂</i><i>有</i><i>限</i><i>公</i><i>司</i></div>
<div class="t cs td" style="left:224.9px;top:64.7px">4447843</div>
<div class="t cs td" style="left:291.2px;top:64.7px">3694</div>
<div class="t cs td" style="left:345.7px;top:64.7px">24435</div>
<div class="t cs td" style="left:16.2px;top:86.0px">3</div>
<div class="t cs td nm" style="left:108.5px;top:86.0px"><i>成</i><i>都</i><i>建</i><i>国</i><i>汽</i><i>车</i><i>贸</i><i>易</i><i>有</i><i>限</i><i>公</i><i>司</i></div>
<div class="t cs td" style="left:224.9px;top:86.0px">3111651</div>
<div class="t cs td" style="left:291.2px;top:86.0px">683</div>
<div class="t cs td" style="left:345.7px;top:86.0px">3500</div>
<div class="t cs td" style="left:16.2px;top:107.2px">4</div>
<div class="t cs td nm" style="left:108.5px;top:107.2px"><i>成</i><i>都</i><i>市</i><i>路</i><i>桥</i><i>工</i><i>程</i><i>股</i><i>份</i><i>有</i><i>限</i><i>公</i><i>司</i></div>
<div class="t cs td" style="left:224.9px;top:107.2px">2725611</div>
<div class="t cs td" style="left:291.2px;top:107.2px">2738</div>
<div class="t cs td" style="left:345.7px;top:107.2px">6841</div>
<div class="t cs td" style="left:16.2px;top:128.5px">5</div>
<div class="t cs td nm" style="left:108.5px;top:128.5px"><i>四</i><i>川</i><i>成</i><i>渝</i><i>高</i><i>速</i><i>公</i><i>路</i><i>股</i><i>份</i><i>有</i><i>限</i>...</div>
<div class="t cs td" style="left:224.9px;top:128.5px">2407537</div>
<div class="t cs td" style="left:291.2px;top:128.5px">2700</div>
<div class="t cs td" style="left:345.7px;top:128.5px">11053</div>
<div class="t cs td" style="left:16.2px;top:149.8px">6</div>
<div class="t cs td nm" style="left:108.5px;top:149.8px"><i>中</i><i>信</i><i>国</i><i>安</i><i>建</i><i>工</i><i>集</i><i>团</i><i>有</i><i>限</i><i>公</i><i>司</i></div>
<div class="t cs td" style="left:224.9px;top:149.8px">2081801</div>
<div class="t cs td" style="left:291.2px;top:149.8px">772</div>
<div class="t cs td" style="left:345.7px;top:149.8px">6404</div>
<div class="t cs td" style="left:16.2px;top:171.1px">7</div>
<div class="t cs td nm" style="left:108.5px;top:171.1px"><i>烟</i><i>辉</i><i>集</i><i>团</i><i>有</i><i>限</i><i>公</i><i>司</i></div>
<div class="t cs td" style="left:224.9px;top:171.1px">1752832</div>
<div class="t cs td" style="left:291.2px;top:171.1px">99</div>
<div class="t cs td" style="left:345.7px;top:171.1px">1883</div>
<div class="t cs td" style="left:16.2px;top:192.4px">8</div>
<div class="t cs td nm" style="left:108.5px;top:192.4px"><i>四</i><i>川</i><i>高</i><i>路</i><i>交</i><i>通</i><i>信</i><i>息</i><i>工</i><i>程</i><i>有</i><i>限</i>...</div>
<div class="t cs td" style="left:224.9px;top:192.4px">1350096</div>
<div class="t cs td" style="left:291.2px;top:192.4px">881</div>
<div class="t cs td" style="left:345.7px;top:192.4px">2596</div>
<div class="t cs td" style="left:16.2px;top:213.6px">9</div>
<div class="t cs td nm" style="left:108.5px;top:213.6px"><i>四</i><i>川</i><i>时</i><i>宇</i><i>建</i><i>设</i><i>工</i><i>程</i><i>有</i><i>限</i><i>公</i><i>司</i></div>
<div class="t cs td" style="left:224.9px;top:213.6px">1302865</div>
<div class="t cs td" style="left:291.2px;top:213.6px">248</div>
<div class="t cs td" style="left:345.7px;top:213.6px">3887</div>
<div class="t cs td" style="left:16.2px;top:234.9px">10</div>
<div class="t cs td nm" style="left:108.5px;top:234.9px"><i>上</i><i>药</i><i>康</i><i>德</i><i>乐</i><i>（</i><i>四</i><i>川</i><i>）</i><i>医</i><i>药</i><i>有</i>...</div>
<div class="t cs td" style="left:224.9px;top:234.9px">1260240</div>
<div class="t cs td" style="left:291.2px;top:234.9px">100</div>
<div class="t cs td" style="left:345.7px;top:234.9px">813</div>
<div class="abs" style="left:0;top:244.6px;width:369px;height:1.2px;background:#7f9fcb"></div>
</div>
</body></html>
